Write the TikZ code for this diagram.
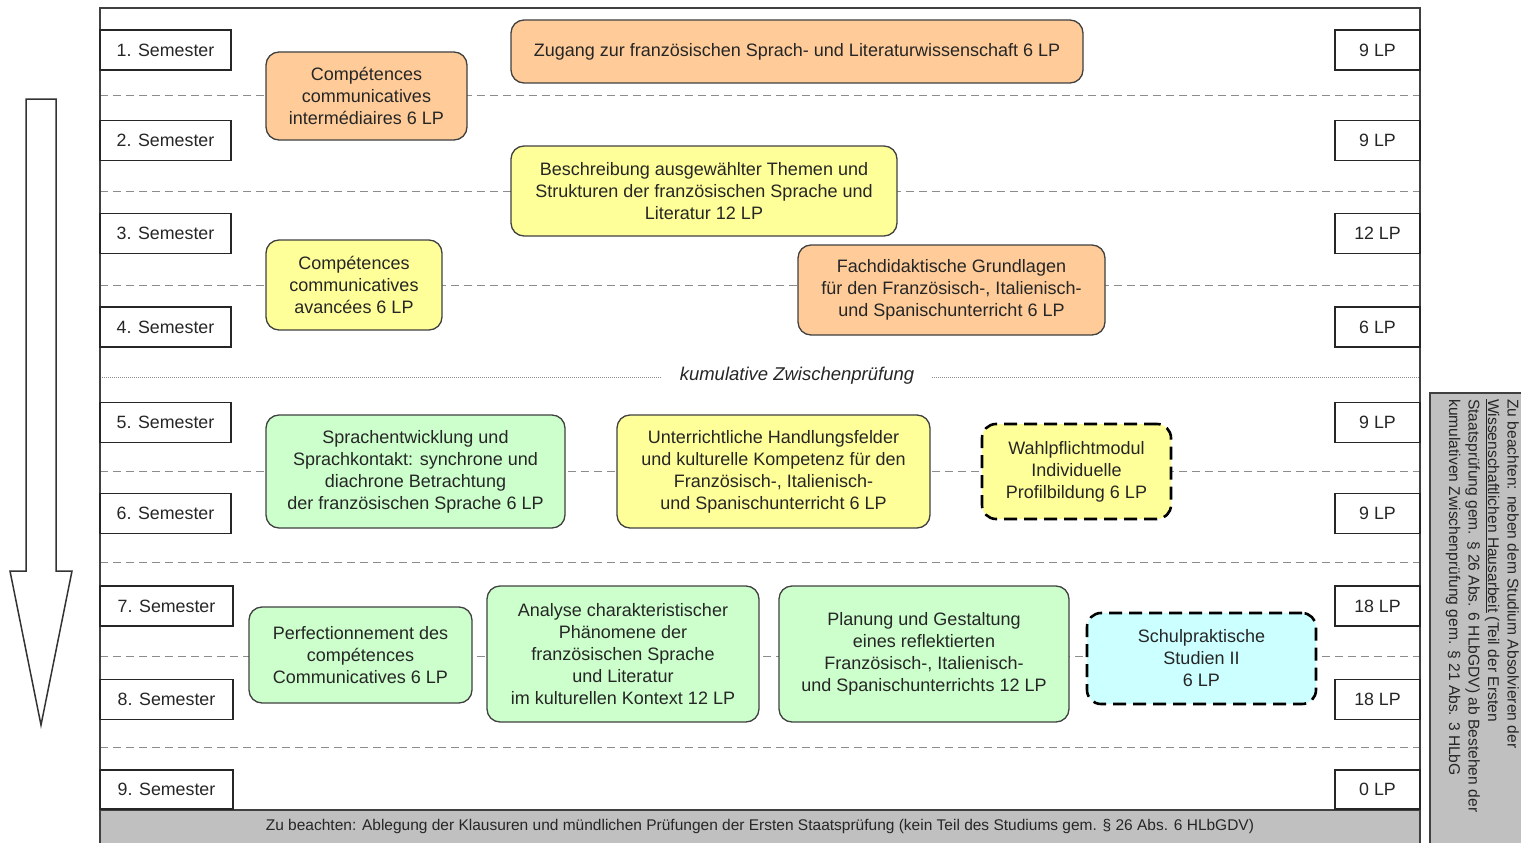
\documentclass[tikz,border=0pt]{standalone}
\usepackage{fontspec}
\setmainfont{Liberation Sans}
\begin{document}
\begin{tikzpicture}[x=1pt,y=-1pt,
  txt/.style={text=black!85},
  semb/.style={draw=black!85, line width=1.3pt, fill=white, minimum width=131pt, minimum height=40pt, inner sep=0pt, font=\fontsize{17.8}{20}\selectfont, txt},
  lpb/.style={draw=black!85, line width=1.3pt, fill=white, minimum width=85pt, minimum height=40pt, inner sep=0pt, font=\fontsize{17.8}{20}\selectfont, txt},
  mod/.style={draw=black!75, line width=1.3pt, rounded corners=13pt, align=center, inner sep=0pt, font=\fontsize{18}{22}\selectfont, txt},
  wmod/.style={draw=black, line width=2.6pt, dash pattern=on 13pt off 7pt, rounded corners=14pt, align=center, inner sep=0pt, font=\fontsize{18}{22}\selectfont, txt},
  sep/.style={draw=black!45, line width=1pt, dash pattern=on 8pt off 5pt},
  dotsep/.style={draw=black!45, line width=1pt, dash pattern=on 1pt off 1pt}
]
\definecolor{orng}{HTML}{FFCC99}
\definecolor{yllw}{HTML}{FFFF99}
\definecolor{grn}{HTML}{CCFFCC}
\definecolor{cyn}{HTML}{CCFFFF}
\definecolor{gry}{HTML}{C0C0C0}
\useasboundingbox (0,0) rectangle (1521,843);

% right note box
\fill[gry] (1430,393) rectangle (1521,843);
\draw[black!75, line width=1.5pt] (1430,843) -- (1430,393) -- (1521,393);
\node[rotate=-90, anchor=north west, inner sep=0pt, align=left, font=\fontsize{15.6}{19.5}\selectfont, txt] (note) at (1519,399)
 {Zu beachten: neben dem Studium Absolvieren der\\
  \underline{Wissenschaftlichen Hausarbeit} (Teil der Ersten\\
  Staatsprüfung gem. § 26 Abs. 6 HLbGDV) ab Bestehen der\\
  kumulativen Zwischenprüfung gem. § 21 Abs. 3 HLbG};

% bottom bar
\fill[gry] (100,810) rectangle (1420,843);
\node[font=\fontsize{15.5}{17}\selectfont, txt] (bottom) at (760,826.5) {Zu beachten: Ablegung der Klausuren und mündlichen Prüfungen der Ersten Staatsprüfung (kein Teil des Studiums gem. § 26 Abs. 6 HLbGDV)};

% separators
\coordinate (L1) at (100,95);  \coordinate (R1) at (1420,95);
\coordinate (L2) at (100,191); \coordinate (R2) at (1420,191);
\coordinate (L3) at (100,285); \coordinate (R3) at (1420,285);
\coordinate (L5) at (100,471); \coordinate (R5) at (1420,471);
\coordinate (L6) at (100,562); \coordinate (R6) at (1420,562);
\coordinate (L7) at (100,656); \coordinate (R7) at (1420,656);
\coordinate (L8) at (100,747); \coordinate (R8) at (1420,747);
\foreach \i in {1,2,3,5,6,7,8} \draw[sep] (L\i) -- (R\i);

\node[font=\fontsize{18.5}{20}\selectfont\itshape, txt, inner xsep=18pt] (kz) at (797,376) {kumulative Zwischenprüfung};
\coordinate (L4) at (100,377); \coordinate (R4) at (1420,377);
\draw[dotsep] (L4) -- (kz.west |- L4);
\draw[dotsep] (kz.east |- R4) -- (R4);

% frame
\draw[black!75, line width=1.6pt] (100,843) -- (100,8) -- (1420,8) -- (1420,843);
\draw[black!75, line width=1.3pt] (100,810) -- (1420,810);

% semester boxes
\node[semb] (s1) at (165.5,50) {1. Semester};
\node[semb] (s2) at (165.5,140.5) {2. Semester};
\node[semb] (s3) at (165.5,233.5) {3. Semester};
\node[semb] (s4) at (165.5,327) {4. Semester};
\node[semb] (s5) at (165.5,422.5) {5. Semester};
\node[semb] (s6) at (165.5,513.5) {6. Semester};
\node[semb, minimum width=133pt] (s7) at (166.5,606) {7. Semester};
\node[semb, minimum width=133pt] (s8) at (166.5,699.5) {8. Semester};
\node[semb, minimum width=133pt, minimum height=39pt] (s9) at (166.5,789.5) {9. Semester};

% LP boxes
\node[lpb] (p1) at (1377.5,50) {9 LP};
\node[lpb] (p2) at (1377.5,140.5) {9 LP};
\node[lpb] (p3) at (1377.5,233.5) {12 LP};
\node[lpb] (p4) at (1377.5,327) {6 LP};
\node[lpb] (p5) at (1377.5,422.5) {9 LP};
\node[lpb] (p6) at (1377.5,513.5) {9 LP};
\node[lpb] (p7) at (1377.5,606) {18 LP};
\node[lpb] (p8) at (1377.5,699.5) {18 LP};
\node[lpb, minimum height=39pt] (p9) at (1377.5,789.5) {0 LP};

% modules
\node[mod, fill=orng, minimum width=572pt, minimum height=63pt] (A) at (797,51.5) {Zugang zur französischen Sprach- und Literaturwissenschaft 6 LP};
\node[mod, fill=orng, minimum width=201pt, minimum height=88pt] (B) at (366.5,96) {Compétences\\communicatives\\intermédiaires 6 LP};
\node[mod, fill=yllw, minimum width=386pt, minimum height=90pt] (C) at (704,191) {Beschreibung ausgewählter Themen und\\Strukturen der französischen Sprache und\\Literatur 12 LP};
\node[mod, fill=yllw, minimum width=176pt, minimum height=90pt] (D) at (354,285) {Compétences\\communicatives\\avancées 6 LP};
\node[mod, fill=orng, minimum width=307pt, minimum height=90pt] (E) at (951.5,290) {Fachdidaktische Grundlagen\\für den Französisch-, Italienisch-\\und Spanischunterricht 6 LP};
\node[mod, fill=grn, minimum width=299pt, minimum height=113pt] (F) at (415.5,471.5) {Sprachentwicklung und\\Sprachkontakt: synchrone und\\diachrone Betrachtung\\der französischen Sprache 6 LP};
\node[mod, fill=yllw, minimum width=313pt, minimum height=113pt] (G) at (773.5,471.5) {Unterrichtliche Handlungsfelder\\und kulturelle Kompetenz für den\\Französisch-, Italienisch-\\und Spanischunterricht 6 LP};
\node[wmod, fill=yllw, minimum width=189pt, minimum height=95pt] (H) at (1076.5,471.5) {Wahlpflichtmodul\\Individuelle\\Profilbildung 6 LP};
\node[mod, fill=grn, minimum width=223pt, minimum height=96pt] (I) at (360.5,655) {Perfectionnement des\\compétences\\Communicatives 6 LP};
\node[mod, fill=grn, minimum width=272pt, minimum height=136pt] (J) at (623,654) {Analyse charakteristischer\\Phänomene der\\französischen Sprache\\und Literatur\\im kulturellen Kontext 12 LP};
\node[mod, fill=grn, minimum width=290pt, minimum height=136pt] (K) at (924,654) {Planung und Gestaltung\\eines reflektierten\\Französisch-, Italienisch-\\und Spanischunterrichts 12 LP};
\node[wmod, fill=cyn, minimum width=229pt, minimum height=91pt] (Lm) at (1201.5,658.5) {Schulpraktische\\Studien II\\6 LP};

% time arrow
\draw[black!80, line width=1.5pt, fill=white, line join=miter] (26,99) -- (56,99) -- (56,571) -- (72,571) -- (41,725) -- (10,571) -- (26,571) -- cycle;
\end{tikzpicture}
\end{document}
